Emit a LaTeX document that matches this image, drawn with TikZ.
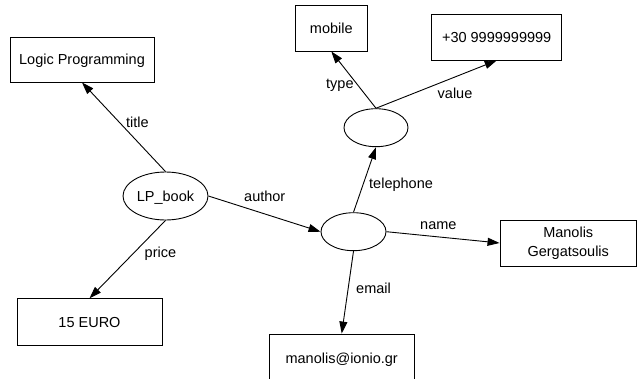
\documentclass[tikz,border=0pt]{standalone}
\usepackage{fontspec}
\setmainfont{Liberation Sans}
\usetikzlibrary{shapes.geometric,arrows.meta}
\begin{document}
\begin{tikzpicture}[x=1pt,y=-1pt,font=\fontsize{14.5}{19}\selectfont,
  valbox/.style={draw,line width=0.9pt,inner sep=0pt,align=center},
  oneline/.style={text height=10pt,text depth=0pt},
  res/.style={draw,ellipse,line width=0.9pt,inner sep=0pt,oneline},
  prop/.style={line width=0.9pt,-{Triangle[length=12pt,width=8pt]}},
  lbl/.style={anchor=base west,inner sep=0pt}]
\clip (0,0) rectangle (637,378);

% resources
\node[res,minimum width=85pt,minimum height=48pt] (lpbook) at (165.5,196) {LP\_book};
\node[res,minimum width=65pt,minimum height=38pt] (author) at (353.5,231.7) {};
\node[res,minimum width=64pt,minimum height=38pt] (phone) at (376,127.7) {};

% values
\node[valbox,oneline,minimum width=144pt,minimum height=45pt] (lptitle) at (82,59.5) {Logic Programming};
\node[valbox,oneline,minimum width=145pt,minimum height=47pt] (lpprice) at (89.5,322.3) {15 EURO};
\node[valbox,oneline,minimum width=72pt,minimum height=46pt] (phtype) at (331.3,28) {mobile};
\node[valbox,oneline,minimum width=130pt,minimum height=46pt] (phvalue) at (496.7,37) {+30 9999999999};
\node[valbox,minimum width=136.5pt,minimum height=46pt] (auname) at (568.25,243) {Manolis\\Gergatsoulis};
\node[valbox,oneline,minimum width=145pt,minimum height=48pt] (auemail) at (341.7,358) {manolis@ionio.gr};

% properties
\draw[prop] (lpbook.north) -- (lptitle.south);
\draw[prop] (lpbook.south) -- (lpprice.north);
\draw[prop] (lpbook.east) -- (author.west);
\draw[prop] (author.north) -- (phone.south);
\draw[prop] (phone.north) -- (phtype.south);
\draw[prop] (phone.north) -- (phvalue.south);
\draw[prop] (author.east) -- (auname.west);
\draw[prop] (author.south) -- (auemail.north);

\node[lbl] (ltitle) at (126,127.5) {title};
\node[lbl] (lprice) at (144.5,257) {price};
\node[lbl] (lauthor) at (244,201) {author};
\node[lbl] (lphone) at (369,188.5) {telephone};
\node[lbl] (ltype) at (326,88.8) {type};
\node[lbl] (lvalue) at (437.5,98.3) {value};
\node[lbl] (lname) at (420,229.5) {name};
\node[lbl] (lemail) at (356,293.3) {email};
\end{tikzpicture}
\end{document}
